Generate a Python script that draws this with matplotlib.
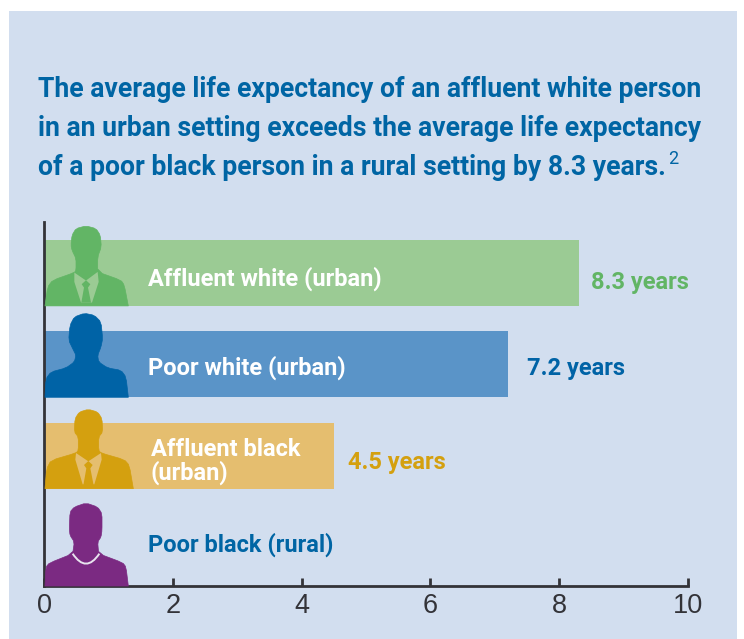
import matplotlib
matplotlib.use('Agg')
import matplotlib.pyplot as plt
from matplotlib.patches import Polygon, Rectangle, PathPatch
from matplotlib.transforms import Affine2D
from matplotlib.path import Path

W, H = 744, 639

TITLE_LINES = [
    'The average life expectancy of an affluent white person',
    'in an urban setting exceeds the average life expectancy',
    'of a poor black person in a rural setting by 8.3 years.',
]
CATEGORIES = ['Affluent white (urban)', 'Poor white (urban)', 'Affluent black\n(urban)', 'Poor black (rural)']
VALUES = [8.3, 7.2, 4.5, 0]
VALUE_LABELS = ['8.3 years', '7.2 years', '4.5 years', '']
XTICKS = [0, 2, 4, 6, 8, 10]

BG = '#D2DEEF'
BLUE = '#0065A4'
BAR_COLORS = ['#9BCB94', '#5A94C8', '#E5BE6F', '#D2DEEF']
DARK_COLORS = ['#62B565', '#0063A6', '#D4A00F', '#7B2A82']
LABEL_COLORS = ['white', 'white', 'white', BLUE]
VALUE_COLORS = ['#62B565', '#0063A6', '#D4A00F', BLUE]
AXIS = '#333338'

# silhouettes, traced in zoomed pixels (3x), each with its own bottom-left origin
MAN_SUIT_A = [(47, 272), (55, 215), (70, 195), (135, 172), (140, 165), (140, 130), (128, 105), (125, 90),
              (128, 60), (140, 40), (170, 32), (200, 40), (213, 60), (216, 95), (205, 125), (205, 170),
              (275, 195), (285, 210), (297, 272)]
SHIRT_A = [(135, 172), (170, 196), (205, 170), (208, 200), (188, 262), (155, 262), (135, 200)]
TIE_A = [(170, 195), (183, 207), (176, 217), (185, 262), (156, 262), (164, 217), (157, 207)]
MAN_POOR_B = [(47, 546), (50, 490), (65, 470), (110, 458), (135, 440), (140, 420), (130, 400), (118, 375),
              (122, 330), (135, 305), (165, 294), (195, 300), (215, 320), (220, 370), (215, 395), (205, 420),
              (208, 440), (235, 458), (275, 465), (290, 485), (297, 546)]
MAN_SUIT_C = [(47, 265), (52, 205), (65, 180), (140, 158), (147, 150), (147, 110), (135, 95), (137, 55),
              (150, 35), (177, 27), (205, 35), (218, 55), (220, 95), (208, 110), (208, 150), (215, 158),
              (285, 178), (300, 195), (312, 265)]
SHIRT_C = [(140, 158), (177, 183), (215, 158), (217, 178), (195, 252), (160, 252), (138, 178)]
TIE_C = [(177, 182), (190, 194), (183, 204), (193, 255), (162, 255), (171, 204), (164, 194)]
MAN_POOR_D = [(47, 562), (50, 505), (60, 493), (130, 465), (135, 430), (122, 410), (120, 390), (122, 340),
              (135, 325), (170, 313), (205, 325), (218, 345), (218, 395), (215, 415), (205, 430), (208, 465),
              (280, 492), (290, 505), (297, 562)]
NECKLACE_D = [(130, 465), (170, 525), (210, 465)]

SILHOUETTES = [
    (MAN_SUIT_A, 272, SHIRT_A, TIE_A),
    (MAN_POOR_B, 546, None, None),
    (MAN_SUIT_C, 265, SHIRT_C, TIE_C),
    (MAN_POOR_D, 562, None, None),
]

plt.rcParams['font.family'] = ['Roboto', 'DejaVu Sans']


def smooth(points, rounds=1):
    # corner cutting, the two bottom corners stay where they are
    for _ in range(rounds):
        new = [points[0]]
        for (x0, y0), (x1, y1) in zip(points[:-1], points[1:]):
            new.append((0.8 * x0 + 0.2 * x1, 0.8 * y0 + 0.2 * y1))
            new.append((0.2 * x0 + 0.8 * x1, 0.2 * y0 + 0.8 * y1))
        new.append(points[-1])
        points = new
    return points


fig = plt.figure(figsize=(W / 100, H / 100), dpi=100, facecolor='white')
fig.add_artist(Rectangle((9 / W, 0), 728 / W, 628 / H, transform=fig.transFigure, facecolor=BG,
                         edgecolor='none', zorder=-1))

ax = fig.add_axes([44 / W, 1 - 586 / H, 644 / W, 364 / H])
ax.patch.set_alpha(0)

BAR_HEIGHT = 0.72
YMAX = 3.425
ax.barh(range(4), VALUES, height=BAR_HEIGHT, color=BAR_COLORS)
ax.set_xlim(0, 10)
ax.set_ylim(YMAX, -0.558)
ax.set_xticks(XTICKS)
ax.set_yticks([])
ax.tick_params(axis='x', direction='in', length=6, width=2, color=AXIS, labelcolor=AXIS, labelsize=19.5, pad=5)
for label in ax.get_xticklabels():
    label.set_family(['Liberation Sans'])
for side in ['top', 'right']:
    ax.spines[side].set_visible(False)
for side in ['left', 'bottom']:
    ax.spines[side].set_linewidth(2)
    ax.spines[side].set_color(AXIS)


def place(i, origin_y):
    # zoomed pixels to display pixels, sitting on the bar bottom
    if VALUES[i] > 0:
        base = ax.transData.transform((0, i + BAR_HEIGHT / 2))
    else:
        base = ax.transData.transform((0, YMAX))
    return Affine2D().translate(-47, -origin_y).scale(1 / 3, -1 / 3).translate(base[0] + 1, base[1])


for i, (outline, origin_y, shirt, tie) in enumerate(SILHOUETTES):
    tr = place(i, origin_y)
    ax.add_patch(Polygon(smooth(outline), closed=True, facecolor=DARK_COLORS[i], edgecolor=DARK_COLORS[i],
                         linewidth=0.5, joinstyle='round', transform=tr, clip_on=False, zorder=3))
    if shirt:
        ax.add_patch(Polygon(shirt, closed=True, facecolor=BAR_COLORS[i], edgecolor='none',
                             transform=tr, clip_on=False, zorder=4))
        ax.add_patch(Polygon(tie, closed=True, facecolor=DARK_COLORS[i], edgecolor='none',
                             transform=tr, clip_on=False, zorder=5))
    if i == 3:
        curve = Path(NECKLACE_D, [Path.MOVETO, Path.CURVE3, Path.CURVE3])
        ax.add_patch(PathPatch(curve, facecolor='none', edgecolor='#E8E4EE', linewidth=1.4,
                               transform=tr, clip_on=False, zorder=5))

LABEL_X = [148, 148, 151, 148]
LABEL_DY = [0.063, 0.04, 0.063, -0.025]
for i, name in enumerate(CATEGORIES):
    x = (LABEL_X[i] - 44) / 644 * 10
    ax.text(x, i + LABEL_DY[i], name, color=LABEL_COLORS[i], fontsize=17, fontweight='bold',
            va='center', ha='left', linespacing=1.0, zorder=6)

VALUE_X = [591, 527, 348]
VALUE_DY = [0.10, 0.05, 0.07]
for i, label in enumerate(VALUE_LABELS[:3]):
    x = (VALUE_X[i] - 44) / 644 * 10
    ax.text(x, i + VALUE_DY[i], label, color=VALUE_COLORS[i], fontsize=17, fontweight='bold',
            va='center', ha='left')

for y, line in zip([97, 136, 175], TITLE_LINES):
    fig.text(38 / W, 1 - y / H, line, color=BLUE, fontsize=19.2, fontweight='bold', va='baseline', ha='left')
fig.text(668 / W, 1 - 164 / H, '2', color=BLUE, fontsize=13, va='baseline', ha='left')

fig.savefig('out.png', dpi=100)
